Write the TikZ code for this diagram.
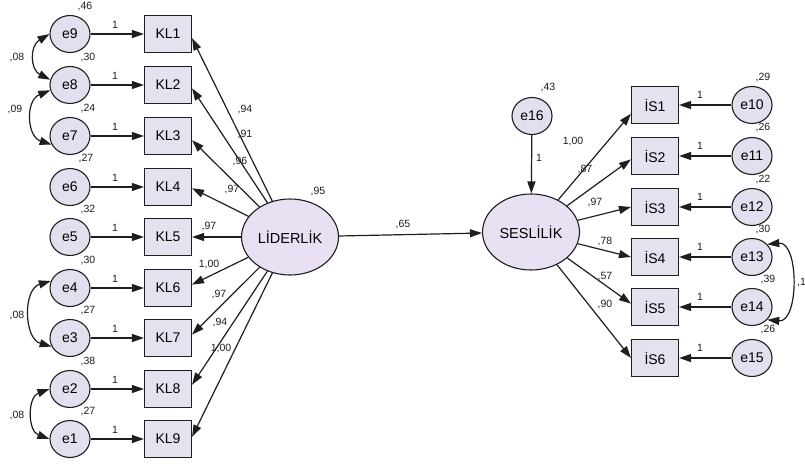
\documentclass[tikz,border=0pt]{standalone}
\usepackage{fontspec}
\setmainfont{Liberation Sans}
\usetikzlibrary{shapes.geometric,arrows.meta}
\definecolor{boxfill}{RGB}{229,226,240}
\definecolor{errfill}{RGB}{226,224,238}
\definecolor{latfill}{RGB}{233,224,243}
\definecolor{ink}{RGB}{30,30,30}
\tikzset{
  obsbox/.style={draw=ink, fill=boxfill, line width=1.1pt, minimum width=47pt, minimum height=37pt, inner sep=0pt, font=\fontsize{14}{16}\selectfont},
  errc/.style={ellipse, draw=ink, fill=errfill, line width=1.1pt, minimum width=40pt, minimum height=37pt, inner sep=0pt, font=\fontsize{14}{16}\selectfont},
  latent/.style={ellipse, draw=ink, fill=latfill, line width=1.1pt, minimum width=97pt, minimum height=76pt, inner sep=0pt, font=\fontsize{14.5}{16}\selectfont},
  lbl/.style={font=\fontsize{10.5}{12}\selectfont, inner sep=0pt, text=ink},
  regr/.style={draw=ink, line width=1.2pt, -{Triangle[length=12pt,width=8pt]}},
  cov/.style={draw=ink, line width=1.2pt, {Triangle[length=12pt,width=8pt]}-{Triangle[length=12pt,width=8pt]}}
}
\begin{document}
\begin{tikzpicture}[x=1pt,y=-1pt]
\fill[white] (0,0) rectangle (805,468);
\useasboundingbox (0,0) rectangle (805,468);

% latent variables
\node[latent] (LID) at (290,237) {LİDERLİK};
\node[latent] (SES) at (531,232) {SESLİLİK};

% left indicators
\node[obsbox] (KL1) at (168,34) {KL1};
\node[obsbox] (KL2) at (168,85) {KL2};
\node[obsbox] (KL3) at (168,136) {KL3};
\node[obsbox] (KL4) at (168,187) {KL4};
\node[obsbox] (KL5) at (168,237) {KL5};
\node[obsbox] (KL6) at (168,288) {KL6};
\node[obsbox] (KL7) at (168,338) {KL7};
\node[obsbox] (KL8) at (168,389) {KL8};
\node[obsbox] (KL9) at (168,439) {KL9};

\node[errc] (e9) at (70,34) {e9};
\node[errc] (e8) at (70,85) {e8};
\node[errc] (e7) at (70,136) {e7};
\node[errc] (e6) at (70,187) {e6};
\node[errc] (e5) at (70,237) {e5};
\node[errc] (e4) at (70,288) {e4};
\node[errc] (e3) at (70,338) {e3};
\node[errc] (e2) at (70,389) {e2};
\node[errc] (e1) at (70,439) {e1};

% right indicators
\node[obsbox] (IS1) at (655,105) {İS1};
\node[obsbox] (IS2) at (655,156) {İS2};
\node[obsbox] (IS3) at (655,207) {İS3};
\node[obsbox] (IS4) at (655,257) {İS4};
\node[obsbox] (IS5) at (655,307) {İS5};
\node[obsbox] (IS6) at (655,358) {İS6};

\node[errc] (e10) at (752,105) {e10};
\node[errc] (e11) at (752,156) {e11};
\node[errc] (e12) at (752,207) {e12};
\node[errc] (e13) at (752,257) {e13};
\node[errc] (e14) at (752,307) {e14};
\node[errc] (e15) at (752,358) {e15};
\node[errc] (e16) at (532,116) {e16};

% error paths left
\foreach \e/\k in {e9/KL1,e8/KL2,e7/KL3,e6/KL4,e5/KL5,e4/KL6,e3/KL7,e2/KL8,e1/KL9}
  \draw[regr] (\e.east) -- (\k.west);
\foreach \y in {25,76,127,178,228,279,329,380,430}
  \node[lbl] at (115,\y) {1};

% error paths right
\foreach \e/\k in {e10/IS1,e11/IS2,e12/IS3,e13/IS4,e14/IS5,e15/IS6}
  \draw[regr] (\e.west) -- (\k.east);
\foreach \y in {95,146,197,247,297,348}
  \node[lbl] at (700,\y) {1};

% loadings LIDERLIK
\draw[regr] (LID) -- (KL1.-10);
\draw[regr] (LID) -- (KL2.-8);
\draw[regr] (LID) -- (KL3.-10);
\draw[regr] (LID) -- (KL4.-3);
\draw[regr] (LID) -- (KL5.east);
\draw[regr] (LID) -- (KL6.8);
\draw[regr] (LID) -- (KL7.8);
\draw[regr] (LID) -- (KL8.10);
\draw[regr] (LID) -- (KL9.5);

\node[lbl] at (245,110) {,94};
\node[lbl] at (245,135) {,91};
\node[lbl] at (240,162) {,96};
\node[lbl] at (232,190) {,97};
\node[lbl] at (209,227) {,97};
\node[lbl] at (209,265) {1,00};
\node[lbl] at (219,295) {,97};
\node[lbl] at (220,323) {,94};
\node[lbl] at (221,349) {1,00};

% loadings SESLILIK
\draw[regr] (SES) -- (IS1.200);
\draw[regr] (SES) -- (IS2.188);
\draw[regr] (SES) -- (IS3.west);
\draw[regr] (SES) -- (IS4.west);
\draw[regr] (SES) -- (IS5.172);
\draw[regr] (SES) -- (IS6.west);

\node[lbl] at (573,142) {1,00};
\node[lbl] at (585,170) {,87};
\node[lbl] at (595,203) {,97};
\node[lbl] at (605,242) {,78};
\node[lbl] at (605,277) {,57};
\node[lbl] at (605,305) {,90};

% structural path
\draw[regr] (LID) -- (SES);
\node[lbl] at (403,225) {,65};
\node[lbl] at (318,192) {,95};
\draw[regr] (e16) -- (SES);
\node[lbl] at (539,158) {1};
\node[lbl] at (548,88) {,43};

% variances left
\node[lbl] at (85,7) {,46};
\node[lbl] at (88,58) {,30};
\node[lbl] at (88,109) {,24};
\node[lbl] at (86,159) {,27};
\node[lbl] at (88,210) {,32};
\node[lbl] at (88,261) {,30};
\node[lbl] at (88,311) {,27};
\node[lbl] at (88,362) {,38};
\node[lbl] at (88,412) {,27};

% variances right
\node[lbl] at (763,78) {,29};
\node[lbl] at (763,128) {,26};
\node[lbl] at (763,180) {,22};
\node[lbl] at (763,230) {,30};
\node[lbl] at (768,280) {,39};
\node[lbl] at (768,330) {,26};

% covariances
\draw[cov] (e9.west) .. controls +(-20,12) and +(-20,-10) .. (e8.165);
\node[lbl] at (17,58) {,08};
\draw[cov] (e8.195) .. controls +(-25,10) and +(-25,-8) .. (e7.205);
\node[lbl] at (15,110) {,09};
\draw[cov] (e4.160) .. controls +(-28,8) and +(-28,-8) .. (e3.205);
\node[lbl] at (17,316) {,08};
\draw[cov] (e2.west) .. controls +(-22,8) and +(-22,-8) .. (e1.west);
\node[lbl] at (17,416) {,08};
\draw[cov] (e13.40) .. controls +(32,-3) and +(32,3) .. (e14.-40);
\node[lbl,anchor=west] at (797,283) {,1};
\end{tikzpicture}
\end{document}
